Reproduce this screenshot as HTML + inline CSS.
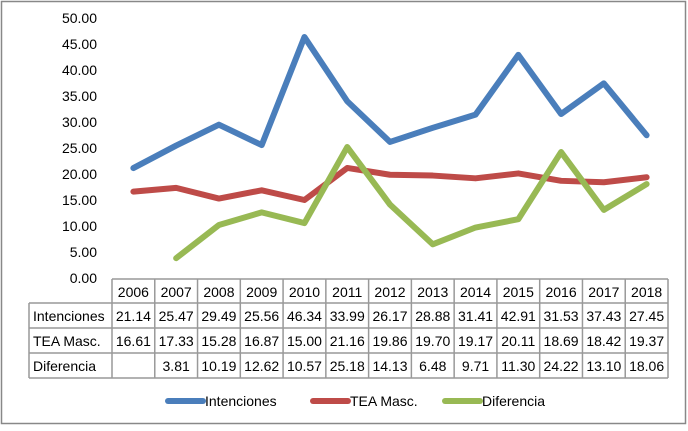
<!DOCTYPE html>
<html><head><meta charset="utf-8"><style>
body{margin:0;background:#fff;font-family:"Liberation Sans",sans-serif;}
svg text{font-family:"Liberation Sans",sans-serif;font-size:14px;fill:#000;}
</style></head><body>
<svg width="688" height="426">
<rect x="1.5" y="1.5" width="684" height="422" fill="#fff" stroke="#888" stroke-width="1.5"/>
<g id="yaxis"></g>
<g id="table"></g>
<g id="lines"></g>
<g id="legend"></g>
</svg>
<script>
const years=["2006","2007","2008","2009","2010","2011","2012","2013","2014","2015","2016","2017","2018"];
const intenciones=[21.14,25.47,29.49,25.56,46.34,33.99,26.17,28.88,31.41,42.91,31.53,37.43,27.45];
const tea=[16.61,17.33,15.28,16.87,15.00,21.16,19.86,19.70,19.17,20.11,18.69,18.42,19.37];
const diferencia=[null,3.81,10.19,12.62,10.57,25.18,14.13,6.48,9.71,11.30,24.22,13.10,18.06];
const yTicks=[0,5,10,15,20,25,30,35,40,45,50];
const NS="http://www.w3.org/2000/svg";
const x0=112,x1=668,cw=(x1-x0)/years.length;
const X=i=>x0+cw*(i+0.5);
const Y=v=>278-v*5.2;
function mk(t,a,p){const e=document.createElementNS(NS,t);for(const k in a)e.setAttribute(k,a[k]);p.appendChild(e);return e;}
const ya=document.getElementById('yaxis');
yTicks.forEach(v=>{const t=mk('text',{x:97,y:Y(v)+5,'text-anchor':'end'},ya);t.textContent=v.toFixed(2);

});
const tb=document.getElementById('table');
const rowsY=[279,303,328,353,378];
const st={stroke:'#999','stroke-width':1.5};
mk('line',Object.assign({x1:x0,y1:279,x2:x1,y2:279},st),tb);
for(let r=1;r<5;r++)mk('line',Object.assign({x1:29,y1:rowsY[r],x2:x1,y2:rowsY[r]},st),tb);
mk('line',Object.assign({x1:29,y1:303,x2:29,y2:378},st),tb);
for(let c=0;c<=years.length;c++)mk('line',Object.assign({x1:x0+c*cw,y1:279,x2:x0+c*cw,y2:378},st),tb);
years.forEach((y,i)=>{const t=mk('text',{x:X(i),y:297,'text-anchor':'middle'},tb);t.textContent=y;

});
const series=[["Intenciones",intenciones,"#4a7ebb"],["TEA Masc.",tea,"#be4b48"],["Diferencia",diferencia,"#98b954"]];
series.forEach((s,r)=>{
 const ty=rowsY[r+1]+18;
 const l=mk('text',{x:33,y:ty},tb);l.textContent=s[0];
 
 
 s[1].forEach((v,i)=>{if(v==null)return;const t=mk('text',{x:X(i),y:ty,'text-anchor':'middle'},tb);t.textContent=v.toFixed(2);
 
 });
});
const lg=document.getElementById('lines');
series.forEach(s=>{
 const pts=[];s[1].forEach((v,i)=>{if(v!=null)pts.push(X(i)+','+Y(v));});
 const p=mk('polyline',{points:pts.join(' '),fill:'none',stroke:s[2],'stroke-width':6,'stroke-linejoin':'round','stroke-linecap':'round'},lg);
 
 
});
const lgd=document.getElementById('legend');
const lx=[168,313,445];
series.forEach((s,i)=>{
 const g=mk('g',{},lgd);
 
 
 mk('line',{x1:lx[i],y1:401,x2:lx[i]+35,y2:401,stroke:s[2],'stroke-width':6,'stroke-linecap':'round'},g);
 const t=mk('text',{x:lx[i]+37,y:406},g);t.textContent=s[0];
});
</script>
</body></html>
